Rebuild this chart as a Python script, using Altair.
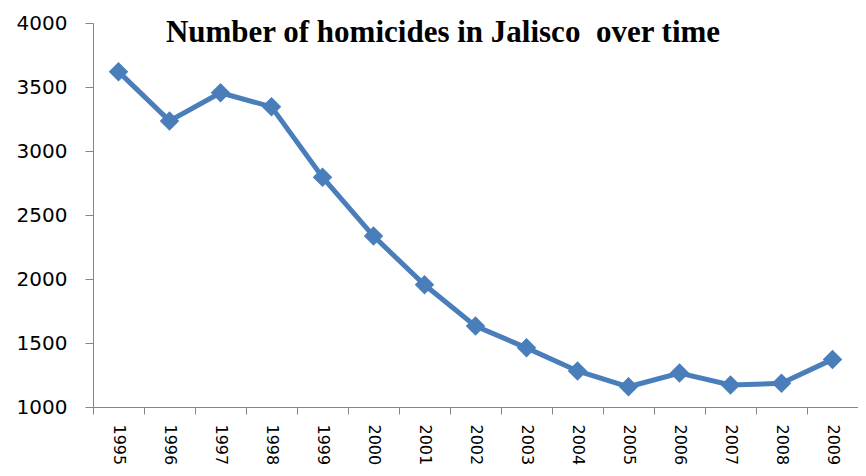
import altair as alt
import pandas as pd

years = ["1995", "1996", "1997", "1998", "1999", "2000", "2001", "2002",
         "2003", "2004", "2005", "2006", "2007", "2008", "2009"]
homicides = [3620, 3235, 3455, 3345, 2795, 2335, 1955, 1632,
             1462, 1282, 1158, 1265, 1172, 1185, 1372]
title_text = "Number of homicides in Jalisco\u00a0 over time"

df = pd.DataFrame({"year": years, "homicides": homicides})
tdf = pd.DataFrame({"t": [title_text]})

color = "#4a7ebb"
axis_gray = "#868686"

x = alt.X("year:N", sort=years,
          scale=alt.Scale(type="band", paddingInner=0, paddingOuter=0),
          axis=alt.Axis(title=None, labelAngle=90, labelFontSize=16,
                        labelFont="DejaVu Sans", labelColor="#000000",
                        labelPadding=10, tickSize=7, tickBand="extent",
                        domainColor=axis_gray, tickColor=axis_gray,
                        labelAlign="left", labelBaseline="middle"))
y = alt.Y("homicides:Q",
          scale=alt.Scale(domain=[1000, 4000], nice=False, zero=False),
          axis=alt.Axis(title=None, values=[1000, 1500, 2000, 2500, 3000, 3500, 4000],
                        format="d",
                        labelFontSize=20, labelFont="DejaVu Sans",
                        labelColor="#000000", labelPadding=18, tickSize=8,
                        grid=False, domainColor=axis_gray, tickColor=axis_gray))

line = alt.Chart(df).mark_line(color=color, strokeWidth=5).encode(x=x, y=y)
pts = alt.Chart(df).mark_point(shape="diamond", filled=True, opacity=1,
                               color=color, size=380).encode(x=x, y=y)
title = alt.Chart(tdf).mark_text(font="Liberation Serif", fontSize=31,
                                 fontWeight="bold", color="#000000",
                                 align="center", baseline="alphabetic").encode(
    text="t:N", x=alt.value(350), y=alt.value(19))

chart = (line + pts + title).properties(
    width=765, height=384,
    autosize=alt.AutoSizeParams(type="none"),
    padding={"left": 85, "top": 15, "right": 0, "bottom": 58},
).configure_view(stroke=None)

chart.save("out.html", embed_options={"renderer": "svg", "actions": False})
